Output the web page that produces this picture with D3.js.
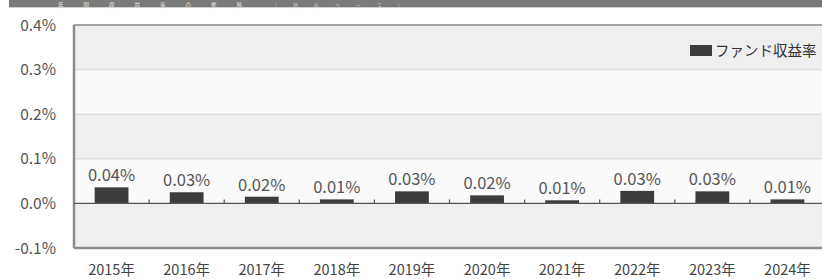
<!DOCTYPE html>
<html><head><meta charset="utf-8">
<script src="https://cdn.jsdelivr.net/npm/d3@7"></script>
<style>html,body{margin:0;padding:0;background:#fff;overflow:hidden}</style>
</head><body>
<svg id="c" width="822" height="279"></svg>
<script>
const categories = ["2015年","2016年","2017年","2018年","2019年","2020年","2021年","2022年","2023年","2024年"];
const fundReturn = [0.036,0.025,0.015,0.009,0.027,0.018,0.007,0.028,0.027,0.009];
const valueLabels = ["0.04%","0.03%","0.02%","0.01%","0.03%","0.02%","0.01%","0.03%","0.03%","0.01%"];
const yTicks = [0.4,0.3,0.2,0.1,0.0,-0.1];
const yTickLabels = ["0.4%","0.3%","0.2%","0.1%","0.0%","-0.1%"];
const legendLabel = "ファンド収益率";
const titleText = "年間収益率の推移";
const subtitleText = "（暦年ベース）";

const svg = d3.select("#c");
const font = "'Noto Sans CJK JP','Noto Sans',sans-serif";
const L = 74, R = 825, T = 25, B = 248;

// header bar
svg.append("rect").attr("x",9).attr("y",0).attr("width",813).attr("height",7).attr("fill","#7a7a7a");
svg.append("text").attr("x",58).attr("y",6.5).attr("font-family",font).attr("font-size",5.5).attr("letter-spacing",20)
  .attr("fill","#e8e8e8").text(titleText);
svg.append("text").attr("x",272).attr("y",6.5).attr("font-family",font).attr("font-size",5).attr("letter-spacing",16)
  .attr("fill","#c8c8c8").text(subtitleText);
svg.append("rect").attr("x",9).attr("y",7).attr("width",813).attr("height",1).attr("fill","#cfcfcf");

const x = d3.scaleBand().domain(categories).range([L,R]).paddingInner(0.55).paddingOuter(0.275);
const xb = d3.scaleBand().domain(categories).range([L,R]);
const y = d3.scaleLinear().domain([-0.1,0.4]).range([B,T]);

// bands
for (let i=0;i<yTicks.length-1;i++){
  const top = y(yTicks[i]), bot = y(yTicks[i+1]);
  svg.append("rect").attr("x",L).attr("y",top).attr("width",R-L).attr("height",bot-top)
    .attr("fill", i%2===0 ? "#efefef" : "#fafafa");
}
// gridlines
svg.append("g").selectAll("line").data(yTicks.filter(d=>d!==0 && d!==0.4 && d!==-0.1)).join("line")
  .attr("x1",L).attr("x2",R).attr("y1",d=>y(d)).attr("y2",d=>y(d)).attr("stroke","#dedede").attr("stroke-width",1.5);

// frame
svg.append("line").attr("x1",L).attr("x2",R).attr("y1",T).attr("y2",T).attr("stroke","#8a8a8a").attr("stroke-width",1.5);
svg.append("line").attr("x1",L).attr("x2",R).attr("y1",B).attr("y2",B).attr("stroke","#8a8a8a").attr("stroke-width",2.5);
svg.append("line").attr("x1",L).attr("x2",L).attr("y1",T).attr("y2",B).attr("stroke","#8a8a8a").attr("stroke-width",2.5);

// y labels
svg.append("g").selectAll("text").data(yTicks).join("text")
  .attr("x",56).attr("y",d=>y(d)+5.5).attr("text-anchor","end")
  .attr("font-family",font).attr("font-size",15.5).attr("fill","#555")
  .text((d,i)=>yTickLabels[i]);

// bars
svg.append("g").selectAll("rect").data(fundReturn).join("rect")
  .attr("x",(d,i)=>x(categories[i])).attr("width",x.bandwidth())
  .attr("y",d=>y(d)).attr("height",d=>y(0)-y(d)).attr("fill","#3c3c3c");

// zero axis
svg.append("line").attr("x1",L).attr("x2",R).attr("y1",y(0)).attr("y2",y(0)).attr("stroke","#555").attr("stroke-width",1.2);
svg.append("g").selectAll("line").data(categories.slice(1)).join("line")
  .attr("x1",d=>xb(d)).attr("x2",d=>xb(d)).attr("y1",y(0)-4).attr("y2",y(0)).attr("stroke","#555").attr("stroke-width",1.2);

// value labels
svg.append("g").selectAll("text").data(fundReturn).join("text")
  .attr("x",(d,i)=>x(categories[i])+x.bandwidth()/2).attr("y",d=>y(d)-6).attr("text-anchor","middle")
  .attr("font-family",font).attr("font-size",16.5).attr("fill","#555")
  .text((d,i)=>valueLabels[i]);

// x labels
svg.append("g").selectAll("text").data(categories).join("text")
  .attr("x",d=>xb(d)+xb.bandwidth()/2).attr("y",274.5).attr("text-anchor","middle")
  .attr("font-family",font).attr("font-size",14.5).attr("fill","#444").text(d=>d);

// legend
svg.append("rect").attr("x",690).attr("y",45).attr("width",22).attr("height",11).attr("fill","#3c3c3c");
svg.append("text").attr("x",715).attr("y",56).attr("font-family",font).attr("font-size",14.5).attr("fill","#333").text(legendLabel);
</script>
</body></html>
